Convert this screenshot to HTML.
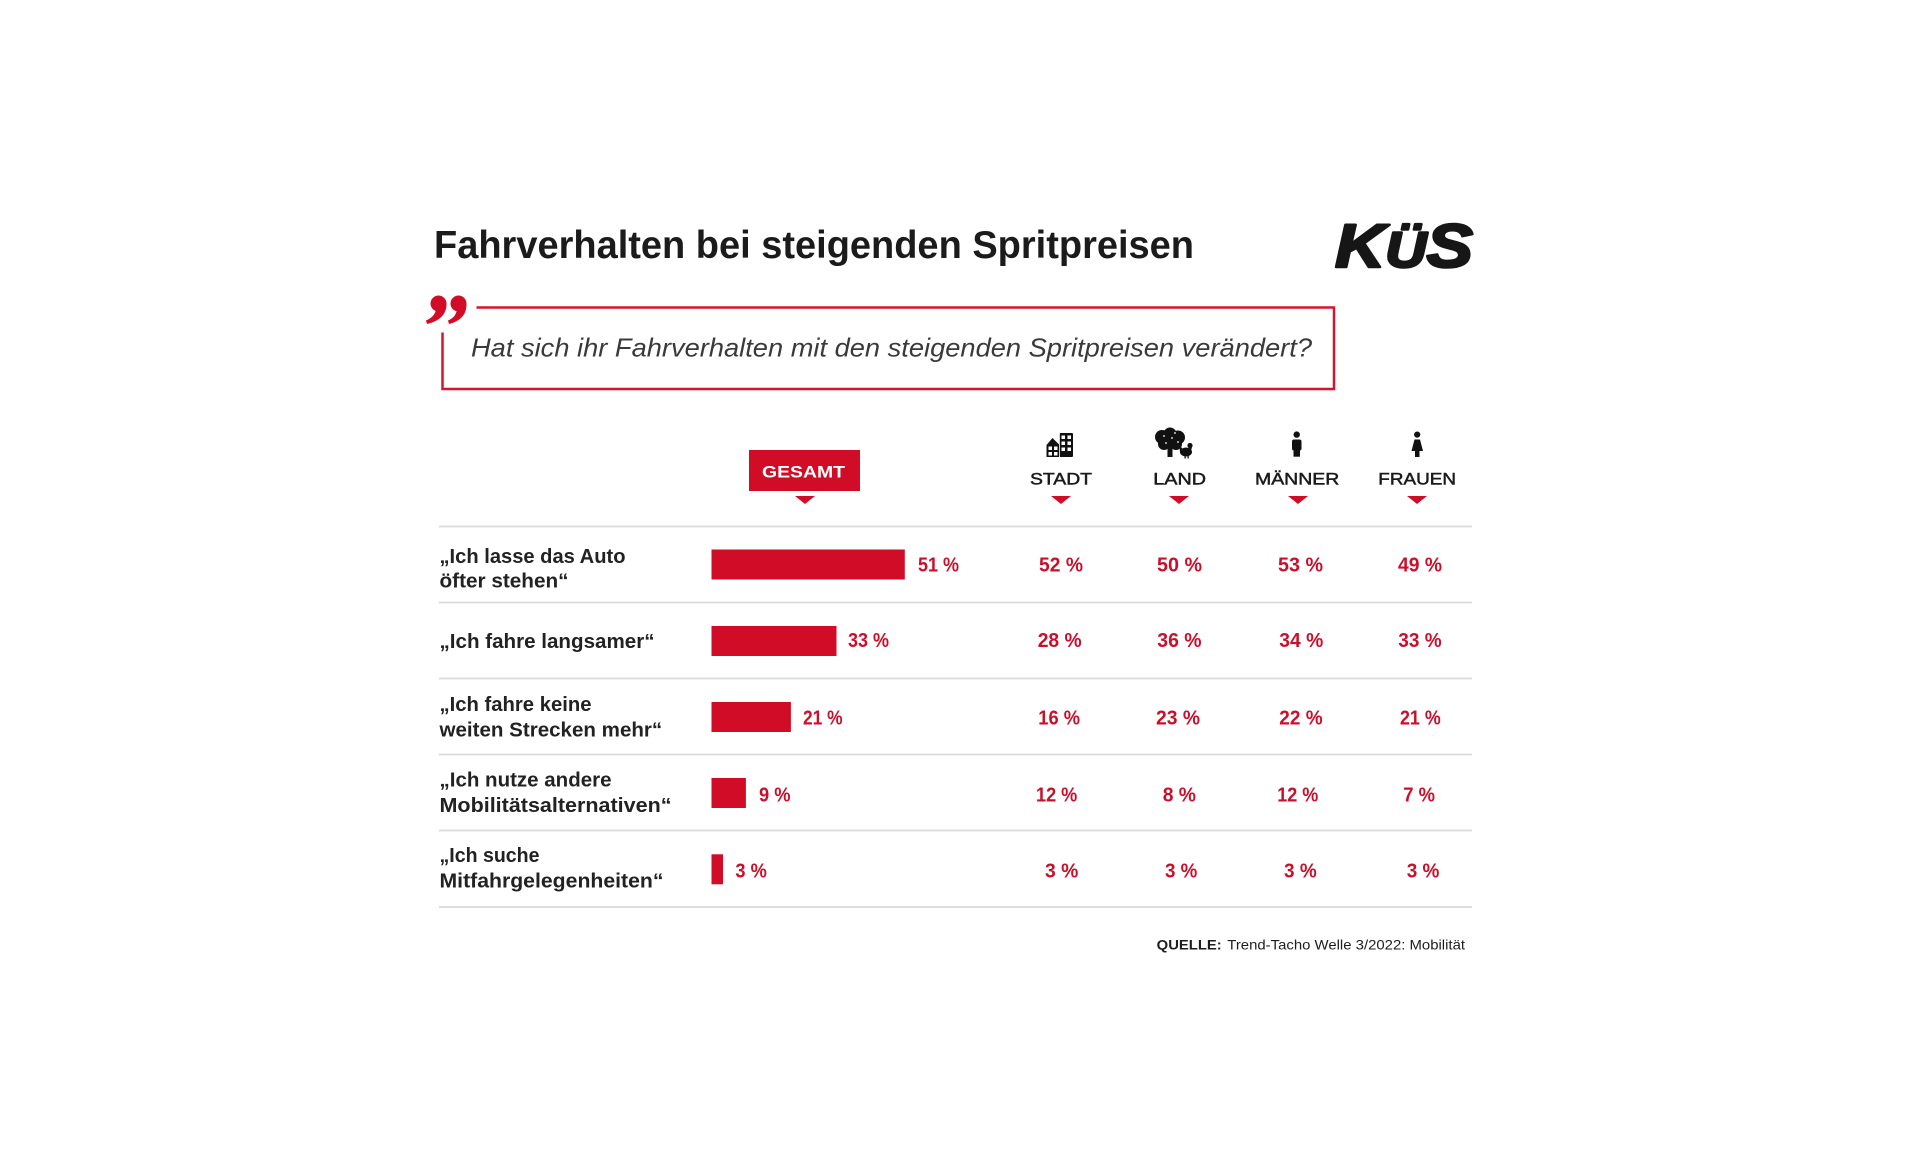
<!DOCTYPE html>
<html>
<head>
<meta charset="utf-8">
<style>
html,body{margin:0;padding:0;background:#fff;}
svg{display:block;}
text{font-family:"Liberation Sans",Arial,sans-serif;}
</style>
</head>
<body>
<svg width="1920" height="1152" viewBox="0 0 1920 1152" xmlns="http://www.w3.org/2000/svg">
<rect width="1920" height="1152" fill="#ffffff"/>

<!-- Title -->
<text x="434" y="258" font-weight="bold" font-size="39" fill="#1b1b1b" textLength="760" lengthAdjust="spacingAndGlyphs">Fahrverhalten bei steigenden Spritpreisen</text>

<!-- Logo -->
<text x="1335" y="267" font-weight="bold" font-style="italic" font-size="61" fill="#161616" stroke="#161616" stroke-width="2.5" stroke-linejoin="round" textLength="138" lengthAdjust="spacingAndGlyphs">K<tspan font-size="50">Ü</tspan>S</text>

<!-- Quote marks -->
<g fill="#d10c27">
  <circle cx="438.5" cy="303.5" r="8"/>
  <path d="M446.5,303 C447,314 440,321 427,324 L426,320.5 C432,318 435.5,314 436,309 Z"/>
  <circle cx="458.5" cy="303.5" r="8"/>
  <path d="M466.5,303 C467,314 461,321 449,324 L448,320.5 C454,318 456.5,314 457,309 Z"/>
</g>

<!-- Question box -->
<path d="M476.5,307.5 H1334 V389 H442.5 V332.5" fill="none" stroke="#d3162d" stroke-width="2.5"/>
<text x="471" y="356.5" font-style="italic" font-size="26" fill="#3a3a3a" textLength="841" lengthAdjust="spacingAndGlyphs">Hat sich ihr Fahrverhalten mit den steigenden Spritpreisen verändert?</text>

<!-- Header: GESAMT -->
<rect x="749" y="450" width="111" height="41" fill="#d10c27"/>
<text x="762" y="477.5" font-weight="bold" font-size="16.5" fill="#ffffff" textLength="83" lengthAdjust="spacingAndGlyphs">GESAMT</text>

<!-- Header labels -->
<g font-size="17" fill="#1b1b1b" stroke="#1b1b1b" stroke-width="0.5">
  <text x="1030" y="484.5" textLength="62" lengthAdjust="spacingAndGlyphs">STADT</text>
  <text x="1153.3" y="484.5" textLength="52.7" lengthAdjust="spacingAndGlyphs">LAND</text>
  <text x="1255" y="484.5" textLength="84.3" lengthAdjust="spacingAndGlyphs">MÄNNER</text>
  <text x="1378.3" y="484.5" textLength="77.7" lengthAdjust="spacingAndGlyphs">FRAUEN</text>
</g>

<!-- Triangles -->
<g fill="#d10c27">
  <polygon points="795,496 815,496 805,504"/>
  <polygon points="1051,496 1071,496 1061,504"/>
  <polygon points="1169,496 1189,496 1179,504"/>
  <polygon points="1288,496 1308,496 1298,504"/>
  <polygon points="1407,496 1427,496 1417,504"/>
</g>

<!-- Icon: city buildings -->
<g>
  <path d="M1046.5,457 V445 L1052.5,438 L1059.5,445 V457 Z" fill="#111"/>
  <rect x="1059.5" y="433" width="13.5" height="24" rx="1" fill="#111"/>
  <g fill="#fff">
    <rect x="1061.5" y="435.5" width="3.5" height="3.5"/>
    <rect x="1067.5" y="435.5" width="3.5" height="3.5"/>
    <rect x="1061.5" y="441.5" width="3.5" height="3.5"/>
    <rect x="1067.5" y="441.5" width="3.5" height="3.5"/>
    <rect x="1061.5" y="447.5" width="3.5" height="3.5"/>
    <rect x="1067.5" y="447.5" width="3.5" height="3.5"/>
    <rect x="1048.5" y="446.5" width="3.5" height="3.5"/>
    <rect x="1054" y="446.5" width="3.5" height="3.5"/>
    <rect x="1048.5" y="452" width="3.5" height="3.5"/>
    <rect x="1054" y="452" width="3.5" height="3.5"/>
    <rect x="1059" y="433" width="0.8" height="24"/>
  </g>
</g>

<!-- Icon: tree + chicken -->
<g fill="#111">
  <circle cx="1162" cy="437" r="7"/>
  <circle cx="1170" cy="434" r="6.5"/>
  <circle cx="1178" cy="437.5" r="7"/>
  <circle cx="1164" cy="444" r="6"/>
  <circle cx="1176" cy="444" r="6"/>
  <circle cx="1170" cy="441" r="8"/>
  <rect x="1167.5" y="445" width="5" height="12"/>
  <ellipse cx="1186" cy="452" rx="6" ry="4.5"/>
  <circle cx="1190" cy="445.5" r="2.6"/>
  <path d="M1188,447 L1192,447 L1191,451 Z"/>
  <polygon points="1179.5,445 1183.5,450 1180,453"/>
  <rect x="1184.5" y="455" width="1.3" height="3.5"/>
  <rect x="1187.5" y="455" width="1.3" height="3.5"/>
</g>
<g fill="#fff">
  <circle cx="1164" cy="436" r="0.9"/>
  <circle cx="1172" cy="438" r="0.9"/>
  <circle cx="1178" cy="442" r="0.9"/>
  <circle cx="1166" cy="443" r="0.9"/>
  <circle cx="1175" cy="433" r="0.9"/>
</g>

<!-- Icon: man -->
<g fill="#111">
  <circle cx="1296.7" cy="434.6" r="3.2"/>
  <rect x="1292" y="439.5" width="9.5" height="11" rx="2"/>
  <rect x="1293.5" y="449" width="6.5" height="7.7"/>
</g>

<!-- Icon: woman -->
<g fill="#111">
  <circle cx="1417.2" cy="434.6" r="3.1"/>
  <polygon points="1414.5,439.5 1420,439.5 1423,451 1411.5,451"/>
  <rect x="1415" y="450" width="4.5" height="7"/>
</g>

<!-- Separator lines -->
<g stroke="#dadada" stroke-width="1.8">
  <line x1="439" y1="526.5" x2="1472" y2="526.5"/>
  <line x1="439" y1="602.5" x2="1472" y2="602.5"/>
  <line x1="439" y1="678.5" x2="1472" y2="678.5"/>
  <line x1="439" y1="754.5" x2="1472" y2="754.5"/>
  <line x1="439" y1="830.5" x2="1472" y2="830.5"/>
  <line x1="439" y1="907" x2="1472" y2="907"/>
</g>

<!-- Row labels -->
<g font-weight="bold" font-size="20" fill="#222222">
  <text x="439.5" y="563" textLength="186" lengthAdjust="spacingAndGlyphs">„Ich lasse das Auto</text>
  <text x="439.5" y="587.5" textLength="129" lengthAdjust="spacingAndGlyphs">öfter stehen“</text>
  <text x="439.5" y="648" textLength="215" lengthAdjust="spacingAndGlyphs">„Ich fahre langsamer“</text>
  <text x="439.5" y="711" textLength="152" lengthAdjust="spacingAndGlyphs">„Ich fahre keine</text>
  <text x="439.5" y="736.5" textLength="222.7" lengthAdjust="spacingAndGlyphs">weiten Strecken mehr“</text>
  <text x="439.5" y="786.5" textLength="172" lengthAdjust="spacingAndGlyphs">„Ich nutze andere</text>
  <text x="439.5" y="812" textLength="232" lengthAdjust="spacingAndGlyphs">Mobilitätsalternativen“</text>
  <text x="439.5" y="862" textLength="100" lengthAdjust="spacingAndGlyphs">„Ich suche</text>
  <text x="439.5" y="887.5" textLength="224" lengthAdjust="spacingAndGlyphs">Mitfahrgelegenheiten“</text>
</g>

<!-- Bars -->
<g fill="#d10c27">
  <rect x="711.5" y="549.5" width="193.3" height="30"/>
  <rect x="711.5" y="626" width="125" height="30"/>
  <rect x="711.5" y="702" width="79.4" height="30"/>
  <rect x="711.5" y="778" width="34.4" height="30"/>
  <rect x="711.5" y="854.3" width="11.5" height="30"/>
</g>

<!-- Values -->
<g font-weight="bold" font-size="20" fill="#c9102b">
  <text x="918" y="571.5" textLength="41" lengthAdjust="spacingAndGlyphs">51 %</text>
  <text x="848" y="647" textLength="41" lengthAdjust="spacingAndGlyphs">33 %</text>
  <text x="803" y="724.5" textLength="39.6" lengthAdjust="spacingAndGlyphs">21 %</text>
  <text x="759" y="801.5" textLength="31.5" lengthAdjust="spacingAndGlyphs">9 %</text>
  <text x="735.4" y="877.5" textLength="31.4" lengthAdjust="spacingAndGlyphs">3 %</text>

  <text x="1039" y="571.5" textLength="44" lengthAdjust="spacingAndGlyphs">52 %</text>
  <text x="1157" y="571.5" textLength="45" lengthAdjust="spacingAndGlyphs">50 %</text>
  <text x="1278" y="571.5" textLength="45" lengthAdjust="spacingAndGlyphs">53 %</text>
  <text x="1398" y="571.5" textLength="44" lengthAdjust="spacingAndGlyphs">49 %</text>

  <text x="1037.7" y="647" textLength="44" lengthAdjust="spacingAndGlyphs">28 %</text>
  <text x="1157.3" y="647" textLength="44.3" lengthAdjust="spacingAndGlyphs">36 %</text>
  <text x="1279.3" y="647" textLength="44" lengthAdjust="spacingAndGlyphs">34 %</text>
  <text x="1398.3" y="647" textLength="43.3" lengthAdjust="spacingAndGlyphs">33 %</text>

  <text x="1038.3" y="724.5" textLength="41.7" lengthAdjust="spacingAndGlyphs">16 %</text>
  <text x="1156" y="724.5" textLength="44" lengthAdjust="spacingAndGlyphs">23 %</text>
  <text x="1279.3" y="724.5" textLength="43.3" lengthAdjust="spacingAndGlyphs">22 %</text>
  <text x="1400" y="724.5" textLength="40.7" lengthAdjust="spacingAndGlyphs">21 %</text>

  <text x="1036" y="801.5" textLength="41.3" lengthAdjust="spacingAndGlyphs">12 %</text>
  <text x="1162.7" y="801.5" textLength="33.3" lengthAdjust="spacingAndGlyphs">8 %</text>
  <text x="1277.3" y="801.5" textLength="41" lengthAdjust="spacingAndGlyphs">12 %</text>
  <text x="1403.3" y="801.5" textLength="31.7" lengthAdjust="spacingAndGlyphs">7 %</text>

  <text x="1045" y="877.5" textLength="33.3" lengthAdjust="spacingAndGlyphs">3 %</text>
  <text x="1165" y="877.5" textLength="32.3" lengthAdjust="spacingAndGlyphs">3 %</text>
  <text x="1284" y="877.5" textLength="32.7" lengthAdjust="spacingAndGlyphs">3 %</text>
  <text x="1406.7" y="877.5" textLength="32.7" lengthAdjust="spacingAndGlyphs">3 %</text>
</g>

<!-- Footer -->
<text x="1156.7" y="949.3" font-weight="bold" font-size="14" fill="#1e1e1e" textLength="65" lengthAdjust="spacingAndGlyphs">QUELLE:</text>
<text x="1227.3" y="949.3" font-size="14" fill="#1e1e1e" textLength="237.7" lengthAdjust="spacingAndGlyphs">Trend-Tacho Welle 3/2022: Mobilität</text>
</svg>
</body>
</html>
